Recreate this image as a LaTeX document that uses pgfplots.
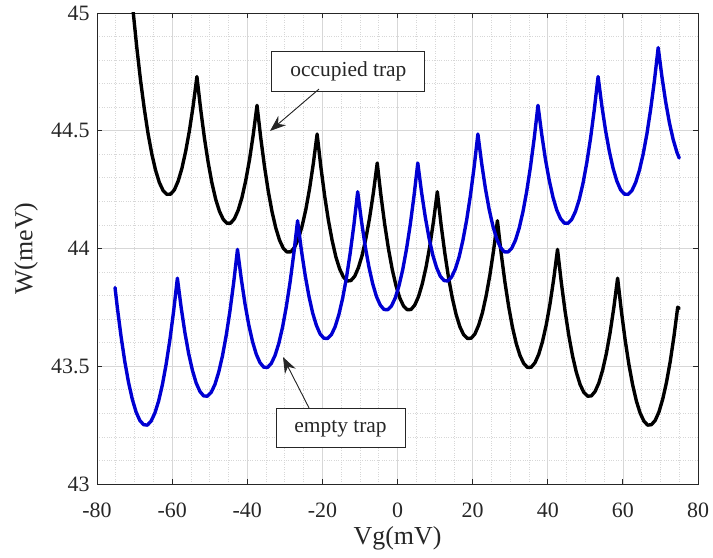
\documentclass[border=0pt]{standalone}
\usepackage{fontspec}
\setmainfont{Liberation Serif}
\usepackage{pgfplots}
\pgfplotsset{compat=1.18}
\usetikzlibrary{arrows.meta}
\definecolor{mblue}{RGB}{0,0,210}
\definecolor{txtgray}{RGB}{38,38,38}
\definecolor{gridgray}{RGB}{215,215,215}
\begin{document}
\begin{tikzpicture}
\begin{axis}[name=ax, scale only axis, width=601bp, height=471bp,
  xmin=-80, xmax=80, ymin=43, ymax=45,
  xtick={-80,-60,...,80}, ytick={43,43.5,44,44.5,45},
  minor x tick num=3, minor y tick num=4,
  grid=both,
  major grid style={draw=gridgray, line width=0.7pt},
  minor grid style={draw=gridgray, dotted, line width=0.7pt},
  tick align=inside, major tick length=5bp, minor tick length=0pt,
  axis line style={draw=txtgray, line width=0.9pt},
  tick style={draw=txtgray, line width=0.9pt},
  /pgf/number format/assume math mode=true,
  ticklabel style={font=\fontsize{22}{24}\selectfont, text=txtgray},
  xticklabel style={anchor=base, yshift=-33bp},
  yticklabel style={anchor=east, xshift=-4bp},
  xlabel={Vg(mV)}, ylabel={W(meV)},
  every axis x label/.style={at={(axis description cs:0.5,-0.1146)}, anchor=center, font=\fontsize{26}{28}\selectfont, text=txtgray},
  every axis y label/.style={at={(axis description cs:-0.118,0.5)}, anchor=center, rotate=90, font=\fontsize{26}{28}\selectfont, text=txtgray},
]
\addplot[black, line width=3.4pt, line join=round, line cap=round] coordinates {
(-72.4,45.376) (-71.4,45.184) (-70.4,45.010) (-69.4,44.853) (-68.4,44.713) (-67.4,44.592) (-66.4,44.487) (-65.4,44.401) (-64.4,44.332) (-63.4,44.280) (-62.4,44.246) (-61.4,44.230) (-60.4,44.231) (-59.4,44.249) (-58.4,44.286) (-57.4,44.340) (-56.4,44.412) (-55.4,44.500) (-54.4,44.606) (-53.4,44.730)
(-52.4,44.591) (-51.4,44.469) (-50.4,44.365) (-49.4,44.278) (-48.4,44.209) (-47.4,44.158) (-46.4,44.124) (-45.4,44.107) (-44.4,44.108) (-43.4,44.127) (-42.4,44.163) (-41.4,44.217) (-40.4,44.289) (-39.4,44.377) (-38.4,44.484) (-37.4,44.608)
(-36.4,44.469) (-35.4,44.347) (-34.4,44.243) (-33.4,44.156) (-32.4,44.087) (-31.4,44.035) (-30.4,44.001) (-29.4,43.985) (-28.4,43.986) (-27.4,44.005) (-26.4,44.041) (-25.4,44.095) (-24.4,44.166) (-23.4,44.255) (-22.4,44.362) (-21.4,44.486)
(-20.4,44.346) (-19.4,44.224) (-18.4,44.120) (-17.4,44.034) (-16.4,43.964) (-15.4,43.913) (-14.4,43.879) (-13.4,43.862) (-12.4,43.864) (-11.4,43.882) (-10.4,43.919) (-9.4,43.972) (-8.4,44.044) (-7.4,44.133) (-6.4,44.239) (-5.4,44.363)
(-4.4,44.224) (-3.4,44.102) (-2.4,43.998) (-1.4,43.911) (-0.4,43.842) (0.6,43.790) (1.6,43.756) (2.6,43.740) (3.6,43.741) (4.6,43.760) (5.6,43.796) (6.6,43.850) (7.6,43.921) (8.6,44.010) (9.6,44.117) (10.6,44.241)
(11.6,44.101) (12.6,43.980) (13.6,43.875) (14.6,43.789) (15.6,43.720) (16.6,43.668) (17.6,43.634) (18.6,43.618) (19.6,43.619) (20.6,43.637) (21.6,43.674) (22.6,43.727) (23.6,43.799) (24.6,43.888) (25.6,43.994) (26.6,44.118)
(27.6,43.979) (28.6,43.857) (29.6,43.753) (30.6,43.666) (31.6,43.597) (32.6,43.546) (33.6,43.512) (34.6,43.495) (35.6,43.496) (36.6,43.515) (37.6,43.551) (38.6,43.605) (39.6,43.676) (40.6,43.765) (41.6,43.872) (42.6,43.996)
(43.6,43.857) (44.6,43.735) (45.6,43.631) (46.6,43.544) (47.6,43.475) (48.6,43.423) (49.6,43.389) (50.6,43.373) (51.6,43.374) (52.6,43.393) (53.6,43.429) (54.6,43.483) (55.6,43.554) (56.6,43.643) (57.6,43.750) (58.6,43.874)
(59.6,43.734) (60.6,43.612) (61.6,43.508) (62.6,43.421) (63.6,43.352) (64.6,43.301) (65.6,43.267) (66.6,43.250) (67.6,43.252) (68.6,43.270) (69.6,43.306) (70.6,43.360) (71.6,43.431) (72.6,43.520) (73.6,43.627) (74.6,43.751) (75.0,43.745)
};
\addplot[mblue, line width=3.4pt, line join=round, line cap=round] coordinates {
(-75.2,43.834) (-74.6,43.751) (-73.6,43.627) (-72.6,43.520) (-71.6,43.431) (-70.6,43.360) (-69.6,43.306) (-68.6,43.270) (-67.6,43.252) (-66.6,43.250) (-65.6,43.267) (-64.6,43.301) (-63.6,43.352) (-62.6,43.421) (-61.6,43.508) (-60.6,43.612) (-59.6,43.734) (-58.6,43.874)
(-57.6,43.750) (-56.6,43.643) (-55.6,43.554) (-54.6,43.483) (-53.6,43.429) (-52.6,43.393) (-51.6,43.374) (-50.6,43.373) (-49.6,43.389) (-48.6,43.423) (-47.6,43.475) (-46.6,43.544) (-45.6,43.631) (-44.6,43.735) (-43.6,43.857) (-42.6,43.996)
(-41.6,43.872) (-40.6,43.765) (-39.6,43.676) (-38.6,43.605) (-37.6,43.551) (-36.6,43.515) (-35.6,43.496) (-34.6,43.495) (-33.6,43.512) (-32.6,43.546) (-31.6,43.597) (-30.6,43.666) (-29.6,43.753) (-28.6,43.857) (-27.6,43.979) (-26.6,44.118)
(-25.6,43.994) (-24.6,43.888) (-23.6,43.799) (-22.6,43.727) (-21.6,43.674) (-20.6,43.637) (-19.6,43.619) (-18.6,43.618) (-17.6,43.634) (-16.6,43.668) (-15.6,43.720) (-14.6,43.789) (-13.6,43.875) (-12.6,43.980) (-11.6,44.101) (-10.6,44.241)
(-9.6,44.117) (-8.6,44.010) (-7.6,43.921) (-6.6,43.850) (-5.6,43.796) (-4.6,43.760) (-3.6,43.741) (-2.6,43.740) (-1.6,43.756) (-0.6,43.790) (0.4,43.842) (1.4,43.911) (2.4,43.998) (3.4,44.102) (4.4,44.224) (5.4,44.363)
(6.4,44.239) (7.4,44.133) (8.4,44.044) (9.4,43.972) (10.4,43.919) (11.4,43.882) (12.4,43.864) (13.4,43.862) (14.4,43.879) (15.4,43.913) (16.4,43.964) (17.4,44.034) (18.4,44.120) (19.4,44.224) (20.4,44.346) (21.4,44.486)
(22.4,44.362) (23.4,44.255) (24.4,44.166) (25.4,44.095) (26.4,44.041) (27.4,44.005) (28.4,43.986) (29.4,43.985) (30.4,44.001) (31.4,44.035) (32.4,44.087) (33.4,44.156) (34.4,44.243) (35.4,44.347) (36.4,44.469) (37.4,44.608)
(38.4,44.484) (39.4,44.377) (40.4,44.289) (41.4,44.217) (42.4,44.163) (43.4,44.127) (44.4,44.108) (45.4,44.107) (46.4,44.124) (47.4,44.158) (48.4,44.209) (49.4,44.278) (50.4,44.365) (51.4,44.469) (52.4,44.591) (53.4,44.730)
(54.4,44.606) (55.4,44.500) (56.4,44.412) (57.4,44.340) (58.4,44.286) (59.4,44.249) (60.4,44.231) (61.4,44.230) (62.4,44.246) (63.4,44.280) (64.4,44.332) (65.4,44.401) (66.4,44.487) (67.4,44.592) (68.4,44.713) (69.4,44.853)
(70.4,44.729) (71.4,44.622) (72.4,44.533) (73.4,44.462) (74.4,44.408) (75.0,44.384)
};
\node[draw=txtgray, fill=white, line width=0.9pt, minimum width=153bp, minimum height=40bp, inner sep=0pt, font=\fontsize{21.5}{24}\selectfont, text=txtgray] at (axis cs:-13.07,44.751) {occupied trap};
\draw[-{Stealth[length=16bp,width=12bp]}, draw=txtgray, fill=txtgray, line width=0.9pt] (axis cs:-20.9,44.677) -- (axis cs:-33.94,44.499);
\node[draw=txtgray, fill=white, line width=0.9pt, minimum width=129bp, minimum height=39bp, inner sep=0pt, font=\fontsize{21.5}{24}\selectfont, text=txtgray] at (axis cs:-15.17,43.236) {empty trap};
\draw[-{Stealth[length=16bp,width=12bp]}, draw=txtgray, fill=txtgray, line width=0.9pt] (axis cs:-23.56,43.323) -- (axis cs:-30.48,43.539);
\end{axis}
\pgfresetboundingbox
\path[use as bounding box] ([shift={(-97bp,-73bp)}]ax.south west) rectangle ([shift={(15bp,13bp)}]ax.north east);
\end{tikzpicture}
\end{document}
